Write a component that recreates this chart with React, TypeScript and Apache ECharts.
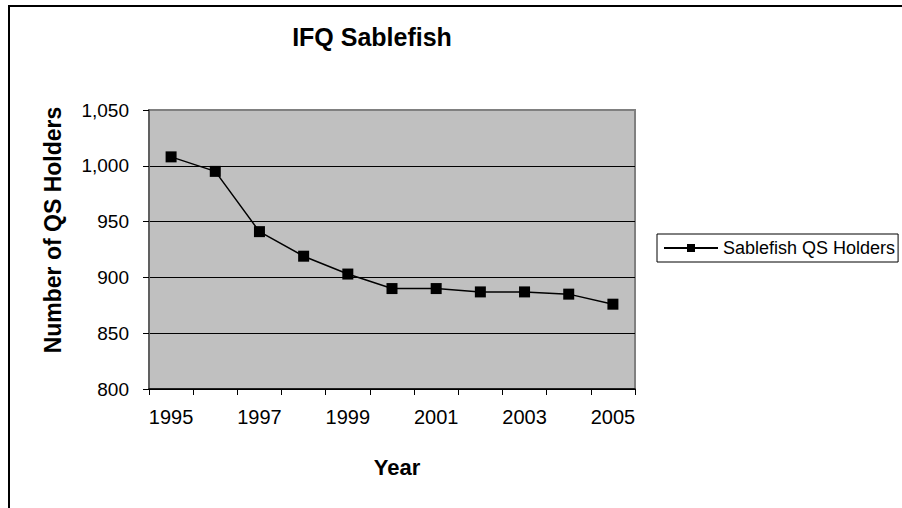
import React, { useEffect, useRef } from "react";
import * as echarts from "echarts";

const years = ["1995", "1996", "1997", "1998", "1999", "2000", "2001", "2002", "2003", "2004", "2005"];
const holders = [1008, 995, 941, 919, 903, 890, 890, 887, 887, 885, 876];
const seriesName = "Sablefish QS Holders";
const chartTitle = "IFQ Sablefish";
const xTitle = "Year";
const yTitle = "Number of QS Holders";

const FONT = "'Liberation Sans', Arial, sans-serif";

export default function App() {
  const ref = useRef<HTMLDivElement>(null);
  useEffect(() => {
    if (!ref.current) return;
    const chart = echarts.init(ref.current, null, { renderer: "svg" });
    chart.setOption({
      animation: false,
      backgroundColor: "#ffffff",
      textStyle: { fontFamily: FONT },
      grid: {
        left: 149,
        right: 267,
        top: 110,
        bottom: 119,
        show: true,
        backgroundColor: "#c0c0c0",
        borderColor: "#808080",
        borderWidth: 2,
      },
      legend: {
        show: true,
        left: 657,
        top: 234,
        orient: "vertical",
        borderColor: "#000",
        borderWidth: 1,
        padding: [5, 3, 5, 6],
        itemWidth: 54,
        itemHeight: 10,
        itemGap: 0,
        textStyle: { fontFamily: FONT, fontSize: 18, color: "#000" },
        data: [seriesName],
      },
      xAxis: {
        type: "category",
        data: years,
        boundaryGap: true,
        axisLine: { show: true, lineStyle: { color: "#000", width: 1.5 } },
        axisTick: { show: true, interval: 0, length: 6, lineStyle: { color: "#000" } },
        axisLabel: { interval: 1, margin: 18, fontSize: 20, color: "#000", fontFamily: FONT },
        splitLine: { show: false },
      },
      yAxis: {
        type: "value",
        min: 800,
        max: 1050,
        interval: 50,
        axisLine: { show: true, lineStyle: { color: "#606060", width: 2 } },
        axisTick: { show: true, length: 6, lineStyle: { color: "#000" } },
        axisLabel: {
          margin: 20,
          fontSize: 19,
          color: "#000",
          fontFamily: FONT,
          formatter: (v: number) => v.toLocaleString("en-US"),
        },
        splitLine: {
          show: true,
          lineStyle: { color: ["#000", "#000", "#000", "#000", "#000", "#808080"], width: 1 },
        },
      },
      graphic: [
        {
          type: "rect",
          shape: { x: 9, y: 6, width: 1000, height: 1000 },
          style: { fill: "none", stroke: "#000", lineWidth: 2 },
          silent: true,
          z: 100,
        },
        {
          type: "text",
          x: 372,
          y: 37,
          style: {
            text: chartTitle,
            fontFamily: FONT,
            fontSize: 25,
            fontWeight: "bold",
            fill: "#000",
            textAlign: "center",
            textVerticalAlign: "middle",
          },
        },
        {
          type: "text",
          x: 397,
          y: 467,
          style: {
            text: xTitle,
            fontFamily: FONT,
            fontSize: 22,
            fontWeight: "bold",
            fill: "#000",
            textAlign: "center",
            textVerticalAlign: "middle",
          },
        },
        {
          type: "text",
          x: 53,
          y: 230,
          rotation: Math.PI / 2,
          style: {
            text: yTitle,
            fontFamily: FONT,
            fontSize: 23,
            fontWeight: "bold",
            fill: "#000",
            textAlign: "center",
            textVerticalAlign: "middle",
          },
        },
      ],
      series: [
        {
          name: seriesName,
          type: "line",
          data: holders,
          symbol: "rect",
          symbolSize: 11,
          itemStyle: { color: "#000" },
          lineStyle: { color: "#000", width: 1.5 },
          z: 5,
        },
      ],
    });
    return () => chart.dispose();
  }, []);
  return (
    <div
      ref={ref}
      style={{ position: "absolute", left: 0, top: 0, width: 902, height: 508 }}
    />
  );
}
